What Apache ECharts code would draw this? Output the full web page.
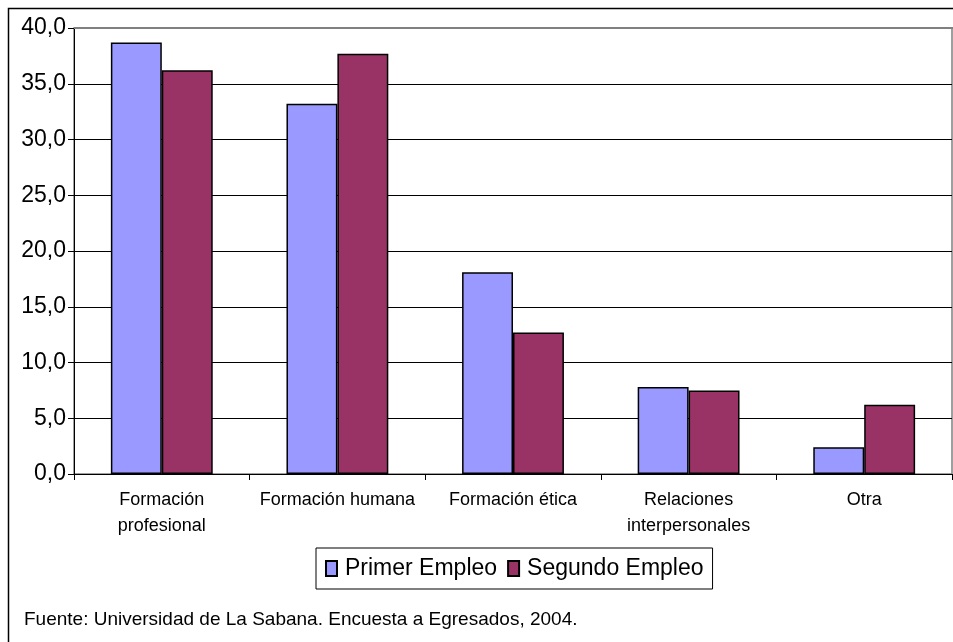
<!DOCTYPE html>
<html>
<head>
<meta charset="utf-8">
<script src="https://cdn.jsdelivr.net/npm/echarts@6/dist/echarts.min.js"></script>
<style>html,body{margin:0;padding:0;background:#fff}#c{width:953px;height:642px}</style>
</head>
<body>
<div id="c"></div>
<script>
const categories = ["Formación\nprofesional", "Formación humana", "Formación ética", "Relaciones\ninterpersonales", "Otra"];
const seriesNames = ["Primer Empleo", "Segundo Empleo"];
const primerEmpleo = [38.7, 33.2, 18.1, 7.8, 2.4];
const segundoEmpleo = [36.2, 37.7, 12.7, 7.5, 6.2];
const sourceText = "Fuente: Universidad de La Sabana. Encuesta a Egresados, 2004.";

const chart = echarts.init(document.getElementById('c'), null, {renderer: 'canvas'});
const font = '"Liberation Sans", Arial, sans-serif';
chart.setOption({
  animation: false,
  backgroundColor: '#ffffff',
  textStyle: {fontFamily: font},
  grid: {left: 74, right: 1, top: 28, bottom: 168, show: true, borderColor: '#808080', borderWidth: 1.5, backgroundColor: 'transparent'},
  legend: {
    data: seriesNames,
    left: 316, top: 548,
    width: 420,
    padding: [9, 9, 9, 9],
    itemGap: 10,
    itemWidth: 11, itemHeight: 15,
    borderColor: '#000', borderWidth: 1,
    textStyle: {fontFamily: font, fontSize: 23, color: '#000', padding: [0, 0, 0, 3]},
    icon: 'rect'
  },
  xAxis: {
    type: 'category',
    data: categories,
    axisLine: {lineStyle: {color: '#000', width: 1}},
    axisTick: {show: true, length: 6, lineStyle: {color: '#000'}},
    axisLabel: {color: '#000', fontSize: 18, fontFamily: font, lineHeight: 26, margin: 13, interval: 0}
  },
  yAxis: {
    type: 'value',
    min: 0, max: 40, interval: 5,
    axisLine: {show: true, lineStyle: {color: '#000', width: 1}},
    axisTick: {show: true, length: 6, lineStyle: {color: '#000'}},
    splitLine: {lineStyle: {color: '#000', width: 1}},
    axisLabel: {color: '#000', fontSize: 23, fontFamily: font, margin: 8,
      formatter: v => v.toFixed(1).replace('.', ',')}
  },
  series: [
    {name: seriesNames[0], type: 'bar', data: primerEmpleo, barGap: '0%', barCategoryGap: '42%',
     itemStyle: {color: '#9999FF', borderColor: '#000', borderWidth: 1.5}},
    {name: seriesNames[1], type: 'bar', data: segundoEmpleo, barGap: '0%', barCategoryGap: '42%',
     itemStyle: {color: '#993366', borderColor: '#000', borderWidth: 1.5}}
  ],
  graphic: [
    {type: 'rect', shape: {x: 8.5, y: 8.5, width: 960, height: 650}, style: {fill: 'none', stroke: '#000', lineWidth: 1.5}, silent: true},
    {type: 'line', shape: {x1: 74, y1: 28, x2: 953, y2: 28}, style: {stroke: '#808080', lineWidth: 2}, silent: true, z: 10},
    {type: 'text', left: 24, top: 610, style: {text: sourceText, fontSize: 19, fontFamily: font, fill: '#000'}}
  ]
});
</script>
</body>
</html>
